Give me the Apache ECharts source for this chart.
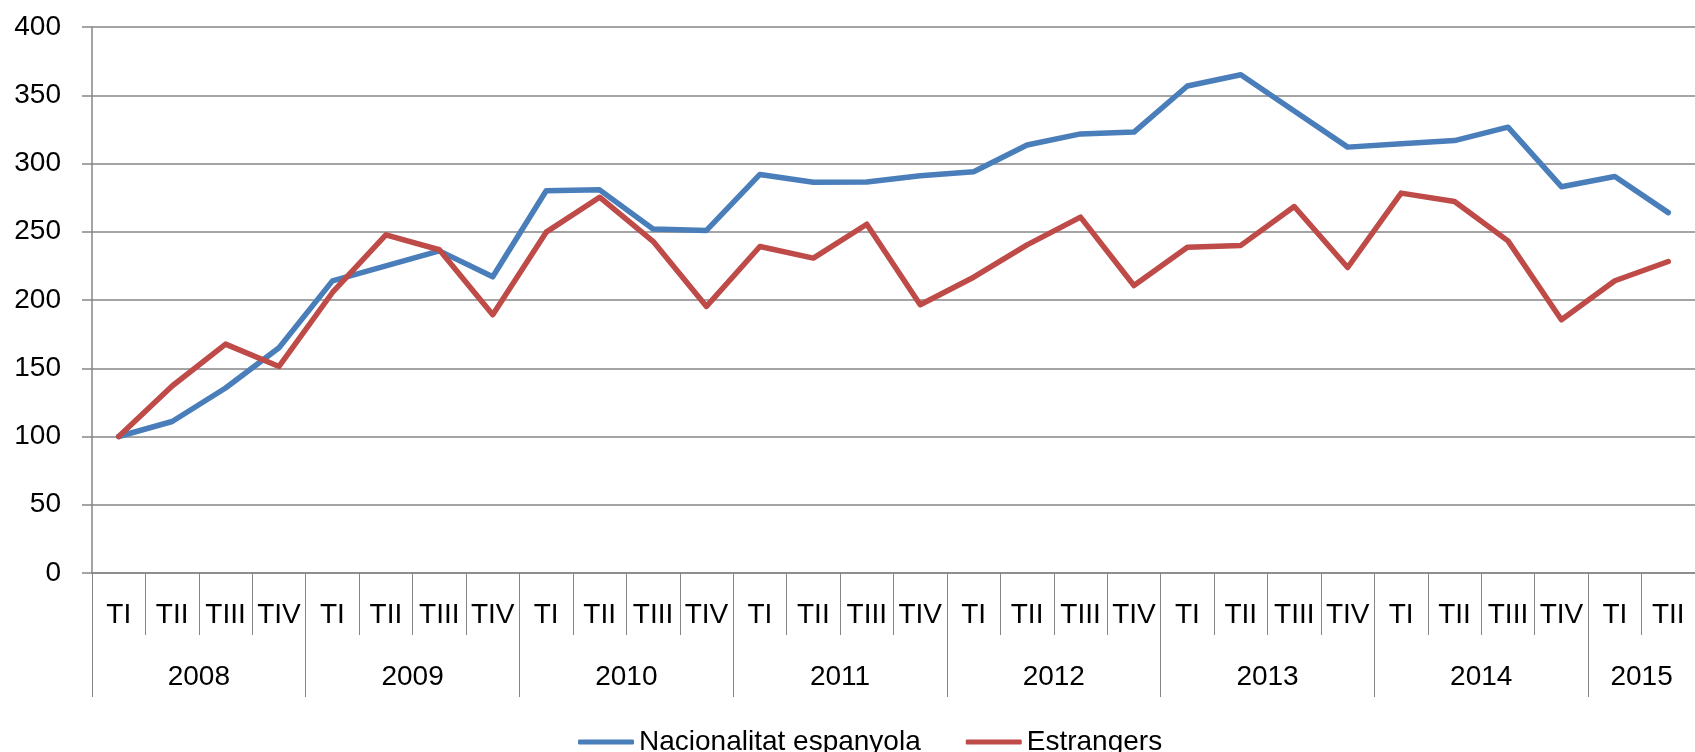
<!DOCTYPE html>
<html><head><meta charset="utf-8">
<script src="https://cdn.jsdelivr.net/npm/echarts@6/dist/echarts.min.js"></script>
<style>html,body{margin:0;padding:0;background:#fff;overflow:hidden}#c{width:1695px;height:752px}</style>
</head><body><div id="c"></div>
<script>
const quarters = ['TI','TII','TIII','TIV','TI','TII','TIII','TIV','TI','TII','TIII','TIV','TI','TII','TIII','TIV','TI','TII','TIII','TIV','TI','TII','TIII','TIV','TI','TII','TIII','TIV','TI','TII'];
const years = ['2008','2009','2010','2011','2012','2013','2014','2015'];
const quartersPerYear = [4,4,4,4,4,4,4,2];
const spanish = [100,111,135.5,165,214,225,236,217,280,280.7,252,251,292,286.3,286.5,291,294,313.6,321.7,323,356.8,365,338.5,312,314.5,316.8,326.6,283,290.5,264];
const foreigners = [100,137,167.7,151.3,205.5,247.7,236.8,189.2,249.7,275.3,243,195.3,239.2,230.7,255.5,196.5,216.7,240.4,260.7,210.6,238.7,240,268.5,223.8,278.3,272.1,243.3,185.5,214.1,228.2];
const seriesNames = ['Nacionalitat espanyola','Estrangers'];

const boundaries = [];
const centers = [];
let acc = 0;
quartersPerYear.forEach(n => { boundaries.push(acc); centers.push(acc + n / 2); acc += n; });
boundaries.push(acc);

const gray = '#868686';
const font = 'Liberation Sans, Arial, sans-serif';
const chart = echarts.init(document.getElementById('c'));
chart.setOption({
  animation: false,
  textStyle: { fontFamily: font },
  grid: { left: 92, top: 27, width: 1611, height: 546 },
  legend: {
    left: 573, top: 723,
    itemWidth: 56, itemHeight: 5, itemGap: 45,
    icon: 'roundRect',
    textStyle: { fontSize: 28, color: '#000', fontFamily: font },
    data: seriesNames
  },
  xAxis: [
    {
      type: 'category', data: quarters, boundaryGap: true, position: 'bottom',
      axisLine: { lineStyle: { color: gray, width: 1.5 } },
      axisTick: { show: true, interval: 0, length: 62, lineStyle: { color: gray, width: 1 } },
      axisLabel: { interval: 0, margin: 28, fontSize: 28, color: '#000', fontFamily: font },
      splitLine: { show: false }
    },
    {
      type: 'value', min: 0, max: acc, position: 'bottom',
      axisLine: { show: false },
      axisTick: { show: true, customValues: boundaries, length: 124, lineStyle: { color: gray, width: 1 } },
      axisLabel: { customValues: centers, margin: 90, fontSize: 28, color: '#000', fontFamily: font,
        formatter: v => { const i = centers.indexOf(v); return i >= 0 ? years[i] : ''; } },
      splitLine: { show: false }
    }
  ],
  yAxis: {
    type: 'value', min: 0, max: 400, interval: 50,
    axisLine: { show: true, lineStyle: { color: gray, width: 1.5 } },
    axisTick: { show: true, length: 10, lineStyle: { color: gray, width: 1.5 } },
    axisLabel: { margin: 31, fontSize: 28, color: '#000', fontFamily: font },
    splitLine: { show: true, lineStyle: { color: gray, width: 1.5 } }
  },
  series: [
    { name: seriesNames[0], type: 'line', data: spanish, xAxisIndex: 0, symbol: 'none',
      itemStyle: { color: '#4A7EBB' }, lineStyle: { color: '#4A7EBB', width: 5.5, cap: 'round', join: 'round' } },
    { name: seriesNames[1], type: 'line', data: foreigners, xAxisIndex: 0, symbol: 'none',
      itemStyle: { color: '#BE4B48' }, lineStyle: { color: '#BE4B48', width: 5.5, cap: 'round', join: 'round' } }
  ]
});
</script></body></html>
